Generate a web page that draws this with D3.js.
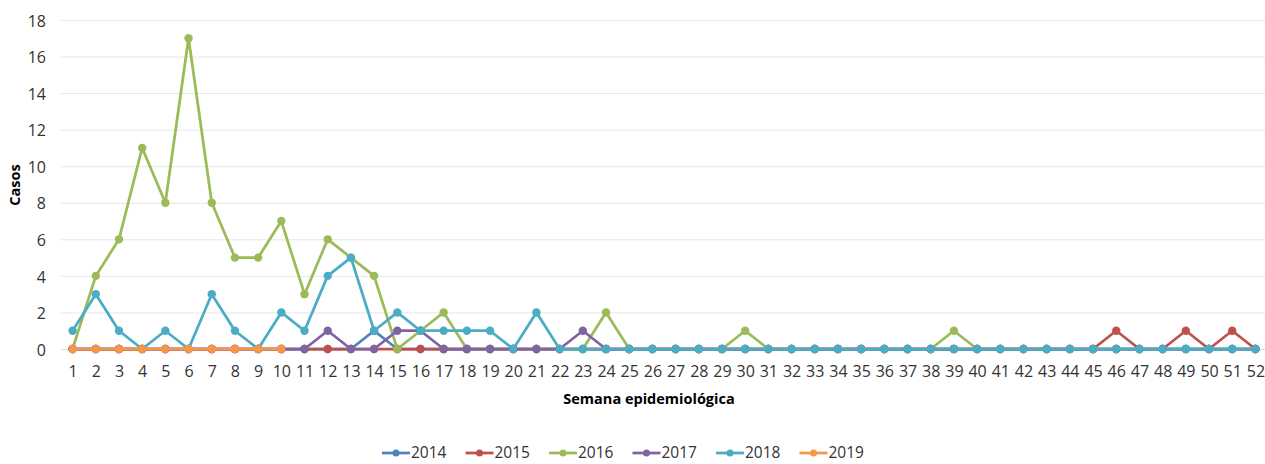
<!DOCTYPE html>
<html>
<head>
<meta charset="utf-8">
<script src="https://cdn.jsdelivr.net/npm/d3@7"></script>
<style>
  body { margin: 0; background: #fff; }
  svg text { font-family: "Open Sans", "Noto Sans", sans-serif; fill: #333; }
</style>
</head>
<body>
<svg id="chart" width="1265" height="464"></svg>
<script>
// semanas epidemiologicas 1..52
var weeks = d3.range(1, 53);

var years = ['2014', '2015', '2016', '2017', '2018', '2019'];
var colors = ['#4f81bd', '#c0504d', '#9bbb59', '#8064a2', '#4bacc6', '#f79646'];

var cases2014 = [0,0,0,0,0,0,0,0,0,0, 0,0,0,1,0,0,0,0,0,0, 0,0,0,0,0,0,0,0,0,0,
                 0,0,0,0,0,0,0,0,0,0, 0,0,0,0,0,0,0,0,0,0, 0,0];
var cases2015 = [0,0,0,0,0,0,0,0,0,0, 0,0,0,0,0,0,0,0,0,0, 0,0,0,0,0,0,0,0,0,0,
                 0,0,0,0,0,0,0,0,0,0, 0,0,0,0,0,1,0,0,1,0, 1,0];
var cases2016 = [0,4,6,11,8,17,8,5,5,7, 3,6,5,4,0,1,2,0,0,0, 0,0,0,2,0,0,0,0,0,1,
                 0,0,0,0,0,0,0,0,1,0, 0,0,0,0,0,0,0,0,0,0, 0,0];
var cases2017 = [0,0,0,0,0,0,0,0,0,0, 0,1,0,0,1,1,0,0,0,0, 0,0,1,0,0,0,0,0,0,0,
                 0,0,0,0,0,0,0,0,0,0, 0,0,0,0,0,0,0,0,0,0, 0,0];
var cases2018 = [1,3,1,0,1,0,3,1,0,2, 1,4,5,1,2,1,1,1,1,0, 2,0,0,0,0,0,0,0,0,0,
                 0,0,0,0,0,0,0,0,0,0, 0,0,0,0,0,0,0,0,0,0, 0,0];
var cases2019 = [0,0,0,0,0,0,0,0,0,0];

var yTicks = [0, 2, 4, 6, 8, 10, 12, 14, 16, 18];

var series = [cases2014, cases2015, cases2016, cases2017, cases2018, cases2019].map(function(vals, i) {
    return {
        name: years[i],
        color: colors[i],
        points: vals.map(function(v, j) { return { week: weeks[j], value: v }; })
    };
});

var svg = d3.select('#chart');

var x = d3.scalePoint()
    .domain(weeks)
    .range([61, 1267])
    .padding(0.5);

var y = d3.scaleLinear()
    .domain([0, 18])
    .range([349, 20]);

// gridlines
svg.append('g')
    .selectAll('line')
    .data(yTicks)
    .join('line')
    .attr('x1', 61)
    .attr('x2', 1265)
    .attr('y1', function(d) { return y(d) + 0.5; })
    .attr('y2', function(d) { return y(d) + 0.5; })
    .attr('stroke', function(d) { return d === 0 ? '#d9d9d9' : '#e6e6e6'; })
    .attr('stroke-width', 1);

// y axis labels
var yAxis = svg.append('g')
    .attr('transform', 'translate(46,1)')
    .call(d3.axisLeft(y).tickValues(yTicks).tickSize(0).tickPadding(0));
yAxis.select('.domain').remove();
yAxis.selectAll('text')
    .style('font-size', '16px');

// x axis labels
var xAxis = svg.append('g')
    .attr('transform', 'translate(0,368)')
    .call(d3.axisBottom(x).tickSize(0).tickPadding(0));
xAxis.select('.domain').remove();
xAxis.selectAll('text')
    .style('font-size', '16px')
    .attr('dy', '0.71em')
    .attr('y', -2);

// axis titles
svg.append('text')
    .attr('transform', 'translate(20,185) rotate(-90)')
    .attr('text-anchor', 'middle')
    .style('font-size', '14.5px')
    .style('font-weight', 'bold')
    .style('fill', '#000')
    .text('Casos');

svg.append('text')
    .attr('x', 649)
    .attr('y', 404)
    .attr('text-anchor', 'middle')
    .style('font-size', '14.5px')
    .style('font-weight', 'bold')
    .style('fill', '#000')
    .text('Semana epidemiológica');

// lines + markers
var line = d3.line()
    .x(function(d) { return x(d.week); })
    .y(function(d) { return y(d.value); });

var groups = svg.append('g')
    .selectAll('g')
    .data(series)
    .join('g');

groups.append('path')
    .attr('d', function(d) { return line(d.points); })
    .attr('fill', 'none')
    .attr('stroke', function(d) { return d.color; })
    .attr('stroke-width', 2.75)
    .attr('stroke-linejoin', 'round');

groups.selectAll('circle')
    .data(function(d) { return d.points.map(function(p) { return { p: p, color: d.color }; }); })
    .join('circle')
    .attr('cx', function(d) { return x(d.p.week); })
    .attr('cy', function(d) { return y(d.p.value); })
    .attr('r', 4.2)
    .attr('fill', function(d) { return d.color; });

// legend
var legend = svg.append('g')
    .selectAll('g')
    .data(series)
    .join('g')
    .attr('transform', function(d, i) { return 'translate(' + (382 + i * 83.5) + ',453)'; });

legend.append('line')
    .attr('x1', 0).attr('x2', 28)
    .attr('stroke', function(d) { return d.color; })
    .attr('stroke-width', 2.75);

legend.append('circle')
    .attr('cx', 14)
    .attr('r', 3.5)
    .attr('fill', function(d) { return d.color; });

legend.append('text')
    .attr('x', 29)
    .attr('dy', '0.35em')
    .style('font-size', '15.5px')
    .text(function(d) { return d.name; });
</script>
</body>
</html>
